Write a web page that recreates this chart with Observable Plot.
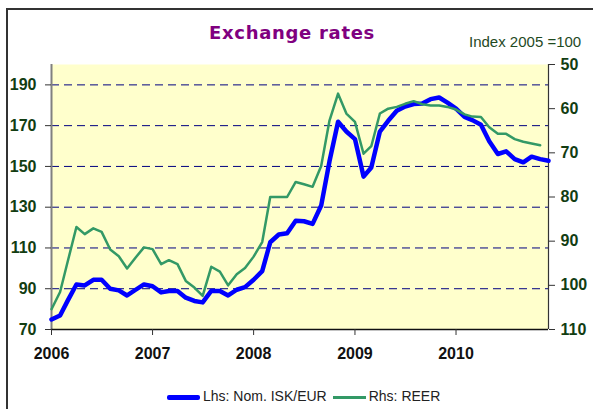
<!DOCTYPE html>
<html><head><meta charset="utf-8">
<script src="https://cdn.jsdelivr.net/npm/d3@7"></script>
<script src="https://cdn.jsdelivr.net/npm/@observablehq/plot@0.6"></script>
<style>
body{margin:0;background:#fff;}
#wrap{position:relative;width:593px;height:409px;overflow:hidden;font-family:"Liberation Sans",Arial,sans-serif;}
#frame{position:absolute;left:6px;top:8px;width:700px;height:500px;border-left:2px solid #333;border-top:2px solid #333;box-sizing:border-box;}
#title{position:absolute;left:0;width:584px;top:22px;text-align:center;font-family:"DejaVu Sans",Verdana,sans-serif;font-weight:bold;font-size:18px;letter-spacing:0.7px;color:#800080;}
#sub{position:absolute;left:469px;top:33px;font-size:15px;color:#1f4a1f;}
#chart{position:absolute;left:0;top:0;}
#legend{position:absolute;left:167px;top:388px;font-size:14px;color:#222;white-space:nowrap;}
#legend span.sw{display:inline-block;width:33px;vertical-align:middle;margin-right:3px;}
#legend span.item{margin-right:6px;}
</style>
</head><body>
<div id="wrap">
  <div id="frame"></div>
  <div id="chart"></div>
  <div id="title">Exchange rates</div>
  <div id="sub">Index 2005 =100</div>
  <div id="legend"><span class="item"><span class="sw" style="border-top:5px solid #0000FF;border-radius:2px"></span>Lhs: Nom. ISK/EUR</span><span class="item"><span class="sw" style="border-top:3px solid #339966"></span>Rhs: REER</span></div>
</div>
<script>
// Monthly data, Jan 2006 onwards
const startMonth = "2006-01";
const nomISKEUR = [
  74.9, 76.9, 84.3, 92.1, 91.6, 94.4, 94.4, 90.0, 89.2, 86.7, 89.5, 92.1,
  91.2, 88.2, 88.9, 88.9, 85.6, 84.0, 83.3, 88.9, 88.9, 86.7, 89.5, 90.8,
  94.4, 98.6, 112.8, 116.6, 117.2, 123.4, 123.1, 121.8, 130.8, 152.5, 171.9, 167.1,
  163.4, 145.0, 149.5, 167.1, 172.4, 177.3, 179.4, 180.6, 180.9, 183.0, 183.8, 181.3,
  178.4, 174.3, 172.7, 170.4, 162.3, 156.1, 157.4, 153.6, 152.0, 154.8, 153.6, 152.8
];
const reer = [
  105.4, 101.5, 94.5, 86.8, 88.4, 87.1, 87.9, 91.9, 93.4, 96.2, 93.7, 91.4,
  91.8, 95.2, 94.3, 95.2, 99.0, 100.5, 102.4, 95.8, 96.9, 100.0, 97.5, 96.1,
  93.5, 90.2, 80.0, 80.0, 80.0, 76.6, 77.1, 77.7, 73.0, 62.7, 56.6, 61.1,
  63.0, 70.2, 68.5, 61.1, 60.0, 59.6, 58.9, 58.3, 59.0, 59.3, 59.3, 59.6,
  60.2, 61.3, 61.8, 61.9, 64.2, 65.7, 65.7, 66.9, 67.5, 67.9, 68.3
];
const leftTicks = [70, 90, 110, 130, 150, 170, 190];
const rightTicks = [50, 60, 70, 80, 90, 100, 110];
const yearTicks = ["2006", "2007", "2008", "2009", "2010"];
const seriesNames = ["Lhs: Nom. ISK/EUR", "Rhs: REER"];

const parseM = d3.utcParse("%Y-%m");
const start = parseM(startMonth);
const months = d3.utcMonth.range(start, d3.utcMonth.offset(start, nomISKEUR.length));
const nomData = nomISKEUR.map((v, i) => ({date: months[i], v}));
const reerData = reer.map((v, i) => ({date: months[i], v}));
// right axis (inverted, 50 top .. 110 bottom) mapped onto left scale (200 .. 70)
const toLeft = v => 70 + (110 - v) * 130 / 60;
const fromLeft = d => 110 - (d - 70) * 60 / 130;
const parseY = d3.utcParse("%Y");

const labelColor = "#123d12";
const plot = Plot.plot({
  width: 593, height: 409,
  marginLeft: 51, marginRight: 45, marginTop: 64, marginBottom: 80,
  style: {background: "transparent", fontFamily: "'Liberation Sans', Arial, sans-serif", overflow: "visible"},
  x: {type: "utc", domain: [start, months[months.length - 1]], label: null},
  y: {domain: [70, 200], label: null},
  marks: [
    Plot.frame({fill: "#FFFFCC", stroke: null}),
    Plot.ruleY(leftTicks.filter(d => d > 70), {stroke: "#000080", strokeWidth: 1, strokeDasharray: "8,5"}),
    Plot.ruleX([start], {stroke: "#808080", strokeWidth: 2}),
    Plot.ruleX([months[months.length - 1]], {stroke: "#333", strokeWidth: 1.2}),
    Plot.ruleY([70], {stroke: "#111", strokeWidth: 1.5}),
    Plot.axisY({ticks: leftTicks, label: null, tickSize: 6, tickPadding: 9, fontSize: 16, fontWeight: "bold", fill: labelColor, stroke: "#333"}),
    Plot.axisY({anchor: "right", label: null, ticks: rightTicks.map(toLeft), tickFormat: d => String(Math.round(fromLeft(d))), tickSize: 6, tickPadding: 6, fontSize: 16, fontWeight: "bold", fill: labelColor, stroke: "#333"}),
    Plot.axisX({ticks: yearTicks.map(parseY), label: null, tickFormat: d3.utcFormat("%Y"), tickSize: 6, tickPadding: 12, fontSize: 16, fontWeight: "bold", fill: "#111", stroke: "#333"}),
    Plot.line(nomData, {x: "date", y: "v", stroke: "#0000FF", strokeWidth: 4.5}),
    Plot.line(reerData, {x: "date", y: d => toLeft(d.v), stroke: "#339966", strokeWidth: 2.5})
  ]
});
document.getElementById("chart").appendChild(plot);
const svg = d3.select(plot);
svg.selectAll('g[aria-label="y-axis tick label"]').attr("fill", labelColor).attr("font-weight", "bold").attr("font-size", 16);
svg.selectAll('g[aria-label="x-axis tick label"]').attr("fill", "#111").attr("font-weight", "bold").attr("font-size", 16);
</script>
</body></html>
